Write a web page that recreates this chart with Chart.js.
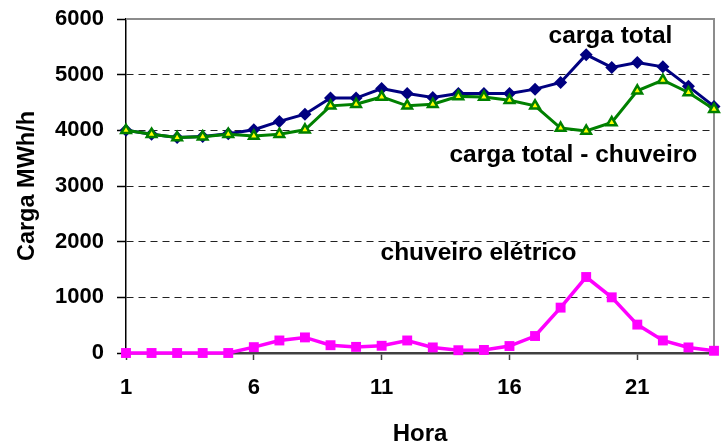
<!DOCTYPE html>
<html><head><meta charset="utf-8">
<script src="https://cdn.jsdelivr.net/npm/chart.js@4.4.0/dist/chart.umd.min.js"></script>
<style>html,body{margin:0;padding:0;background:#fff}canvas{display:block}</style>
</head><body>
<canvas id="c" width="722" height="444"></canvas>
<script>
// ---- data ----
const hours = [1,2,3,4,5,6,7,8,9,10,11,12,13,14,15,16,17,18,19,20,21,22,23,24];
const cargaTotal = [4000,3930,3870,3890,3940,4010,4160,4290,4580,4580,4750,4660,4590,4660,4660,4660,4740,4860,5360,5130,5220,5140,4790,4430];
const cargaSemChuveiro = [4000,3930,3870,3885,3930,3900,3930,4010,4440,4470,4600,4440,4470,4610,4600,4540,4440,4040,3990,4140,4710,4900,4680,4380];
const chuveiro = [0,0,0,0,0,105,225,280,140,110,130,225,100,50,55,125,305,815,1365,1000,510,225,100,40];
const xTickValues = [1,6,11,16,21];
const yTickValues = [0,1000,2000,3000,4000,5000,6000];
const seriesNames = ['carga total','carga total - chuveiro','chuveiro elétrico'];

// ---- annotation placement (data coordinates, text baseline) ----
const annotations = [
  {text: seriesNames[0], x: 19.95, y: 5564},
  {text: seriesNames[1], x: 18.5, y: 3438},
  {text: seriesNames[2], x: 14.79, y: 1667}
];

const FONT = '"Liberation Sans", Arial, sans-serif';
const pts = arr => arr.map((v,i) => ({x: hours[i], y: v}));

const framePlugin = {
  id: 'frame',
  beforeDatasetsDraw(chart) {
    const {ctx, chartArea: a} = chart;
    ctx.save();
    ctx.strokeStyle = '#8c8c8c';
    ctx.lineWidth = 2;
    ctx.beginPath();
    ctx.moveTo(a.left, a.top);
    ctx.lineTo(a.right, a.top);
    ctx.lineTo(a.right, a.bottom);
    ctx.stroke();
    ctx.restore();
  },
  afterDraw(chart) {
    const {ctx, scales} = chart;
    ctx.save();
    ctx.fillStyle = '#000';
    ctx.font = 'bold 24.5px ' + FONT;
    ctx.textAlign = 'center';
    ctx.textBaseline = 'alphabetic';
    annotations.forEach(a => {
      ctx.fillText(a.text, scales.x.getPixelForValue(a.x), scales.y.getPixelForValue(a.y));
    });
    ctx.restore();
  }
};

new Chart(document.getElementById('c'), {
  type: 'line',
  data: {
    datasets: [
      {
        label: seriesNames[2], data: pts(chuveiro),
        borderColor: '#ff00ff', backgroundColor: '#ff00ff', borderWidth: 3.5,
        pointStyle: 'rect', pointRadius: 7, pointBorderWidth: 0, clip: false, tension: 0
      },
      {
        label: seriesNames[1], data: pts(cargaSemChuveiro),
        borderColor: '#008000', backgroundColor: '#ffff00', borderWidth: 3,
        pointStyle: 'triangle', pointRadius: 5.5, pointBorderWidth: 2.5, pointBorderColor: '#008000',
        clip: false, tension: 0
      },
      {
        label: seriesNames[0], data: pts(cargaTotal),
        borderColor: '#000080', backgroundColor: '#000080', borderWidth: 3,
        pointStyle: 'rectRot', pointRadius: 6.5, pointBorderWidth: 0, clip: false, tension: 0
      }
    ]
  },
  options: {
    responsive: false,
    animation: false,
    devicePixelRatio: 1,
    layout: {padding: {left: 0, right: 1, top: 19, bottom: 0}},
    plugins: {legend: {display: false}, tooltip: {enabled: false}},
    scales: {
      x: {
        type: 'linear', min: 1, max: 24,
        afterBuildTicks: s => { s.ticks = xTickValues.map(v => ({value: v})); },
        afterFit: s => { s.height = 91; s.paddingLeft = 0; s.paddingRight = 0; },
        grid: {drawOnChartArea: false, drawTicks: true, tickLength: 7, tickColor: '#404040', tickWidth: 1.5},
        border: {color: '#404040', width: 2.5},
        ticks: {color: '#000', font: {family: FONT, size: 22, weight: 'bold'}, padding: 15, maxRotation: 0, autoSkip: false,
                callback: v => String(v)},
        title: {display: true, text: 'Hora', color: '#000', font: {family: FONT, size: 24, weight: 'bold', lineHeight: 1}, padding: {top: 0, bottom: -2}}
      },
      y: {
        min: 0, max: 6000,
        afterBuildTicks: s => { s.ticks = yTickValues.map(v => ({value: v})); },
        afterFit: s => { s.width = 126; s.paddingTop = 0; s.paddingBottom = 0; },
        grid: {
          color: c => (c.tick && (c.tick.value === 0 || c.tick.value === 6000)) ? 'rgba(0,0,0,0)' : '#222',
          lineWidth: 1,
          tickColor: '#000', tickLength: 9, tickWidth: 1.5, tickBorderDash: []
        },
        border: {color: '#000', width: 1.5, dash: [7, 5]},
        ticks: {color: '#000', font: {family: FONT, size: 22, weight: 'bold'}, padding: 13, callback: v => String(v)},
        title: {display: true, text: 'Carga MWh/h', color: '#000', font: {family: FONT, size: 23.5, weight: 'bold', lineHeight: 1}, padding: {top: 16, bottom: 0}}
      }
    }
  },
  plugins: [framePlugin]
});
</script>
</body></html>
